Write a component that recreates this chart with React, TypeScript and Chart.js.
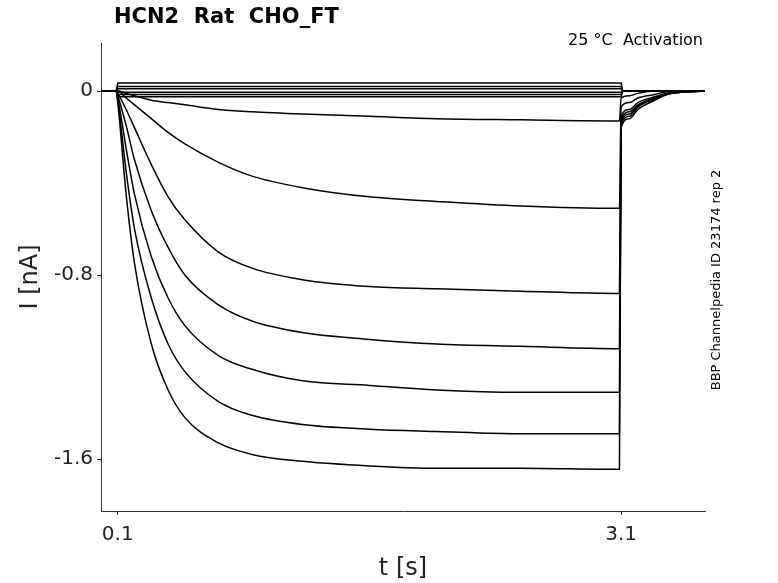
import React, { useEffect, useRef } from "react";
import { Chart, registerables } from "chart.js";
Chart.register(...registerables);

const times = [0, 0.09, 0.1, 0.15, 0.2, 0.3, 0.4, 0.5, 0.7, 0.9, 1.2, 1.6, 2.0, 2.5, 3.09, 3.1, 3.15, 3.2, 3.3, 3.4, 3.6];
const traceA = [0, 0, -0.05, -0.45, -0.75, -1.1, -1.3, -1.42, -1.53, -1.58, -1.61, -1.63, -1.64, -1.64, -1.645, -0.16, -0.12, -0.08, -0.04, -0.01, 0];
const traceB = [0, 0, -0.04, -0.35, -0.6, -0.9, -1.1, -1.22, -1.35, -1.41, -1.45, -1.47, -1.48, -1.49, -1.49, -0.15, -0.11, -0.07, -0.035, -0.01, 0];
const traceC = [0, 0, -0.03, -0.25, -0.45, -0.72, -0.9, -1.02, -1.15, -1.21, -1.26, -1.28, -1.3, -1.31, -1.31, -0.14, -0.1, -0.065, -0.03, -0.01, 0];
const traceD = [0, 0, -0.02, -0.15, -0.3, -0.52, -0.68, -0.8, -0.93, -1.0, -1.05, -1.08, -1.1, -1.11, -1.12, -0.13, -0.09, -0.06, -0.03, -0.01, 0];
const traceE = [0, 0, -0.01, -0.08, -0.16, -0.32, -0.46, -0.56, -0.7, -0.77, -0.82, -0.85, -0.86, -0.87, -0.88, -0.11, -0.08, -0.05, -0.025, -0.005, 0];
const traceF = [0, 0, 0, -0.03, -0.06, -0.12, -0.18, -0.23, -0.31, -0.37, -0.42, -0.46, -0.48, -0.5, -0.51, -0.07, -0.05, -0.03, -0.015, 0, 0];
const traceG = [0, 0, 0, -0.01, -0.02, -0.04, -0.05, -0.06, -0.08, -0.09, -0.1, -0.11, -0.12, -0.125, -0.13, -0.03, -0.02, -0.01, 0, 0, 0];
const flatLevels = [0.035, 0.02, 0.01, -0.005, -0.015, -0.025];
const xTicks = [0.1, 3.1];
const yTicks = [0, -0.8, -1.6];

const FONT = "'DejaVu Sans', sans-serif";

export default function App() {
  const ref = useRef<HTMLCanvasElement>(null);
  useEffect(() => {
    document.body.style.margin = "0";
    const traces = [traceA, traceB, traceC, traceD, traceE, traceF, traceG];
    const datasets: any[] = traces.map((tr) => ({
      data: times.map((t, i) => ({ x: t, y: tr[i] })),
      borderColor: "#000", borderWidth: 1.5, pointRadius: 0, cubicInterpolationMode: "monotone",
    }));
    flatLevels.forEach((lv) => {
      datasets.push({
        data: [{ x: 0, y: 0 }, { x: 0.09, y: 0 }, { x: 0.1, y: lv }, { x: 3.1, y: lv }, { x: 3.11, y: 0 }, { x: 3.6, y: 0 }],
        borderColor: "#000", borderWidth: 1.5, pointRadius: 0,
      });
    });
    const textPlugin = {
      id: "texts",
      afterDraw(c: any) {
        const ctx = c.ctx;
        ctx.save();
        ctx.fillStyle = "#000";
        ctx.font = `bold 21px ${FONT}`;
        ctx.textBaseline = "middle";
        ctx.textAlign = "left";
        ctx.fillText("HCN2  Rat  CHO_FT", 114, 18);
        ctx.font = `16px ${FONT}`;
        ctx.textAlign = "right";
        ctx.fillText("25 °C  Activation", 703, 41);
        ctx.translate(717, 280);
        ctx.rotate(-Math.PI / 2);
        ctx.textAlign = "center";
        ctx.font = `13px ${FONT}`;
        ctx.fillText("BBP Channelpedia ID 23174 rep 2", 0, 0);
        ctx.restore();
      },
    };
    const chart = new Chart(ref.current!, {
      type: "line",
      data: { datasets },
      plugins: [textPlugin],
      options: {
        animation: false, responsive: false,
        layout: { padding: { top: 43, right: 73, left: 0, bottom: 0 } },
        plugins: { legend: { display: false }, tooltip: { enabled: false } },
        scales: {
          x: {
            type: "linear", min: 0, max: 3.6,
            afterBuildTicks: (s: any) => { s.ticks = xTicks.map((v) => ({ value: v })); },
            afterFit: (s: any) => { s.height = 72; },
            ticks: { font: { size: 20, family: FONT }, color: "#222", padding: 8, callback: (v: any) => String(v) },
            grid: { display: true, drawOnChartArea: false, tickLength: 4, color: "#333" },
            border: { color: "#333" },
            title: { display: true, text: "t [s]", font: { size: 24, family: FONT }, color: "#222", padding: 0 },
          },
          y: {
            min: -1.826, max: 0.209,
            afterBuildTicks: (s: any) => { s.ticks = yTicks.map((v) => ({ value: v })); },
            afterFit: (s: any) => { s.width = 101; },
            ticks: { font: { size: 20, family: FONT }, color: "#222", padding: 4, callback: (v: any) => String(v) },
            grid: { display: true, drawOnChartArea: false, tickLength: 4, color: "#333" },
            border: { color: "#333" },
            title: { display: true, text: "I [nA]", font: { size: 24, family: FONT }, color: "#222", padding: { top: 16, bottom: 0 } },
          },
        },
      },
    });
    return () => chart.destroy();
  }, []);
  return <canvas ref={ref} width={778} height={583} />;
}
